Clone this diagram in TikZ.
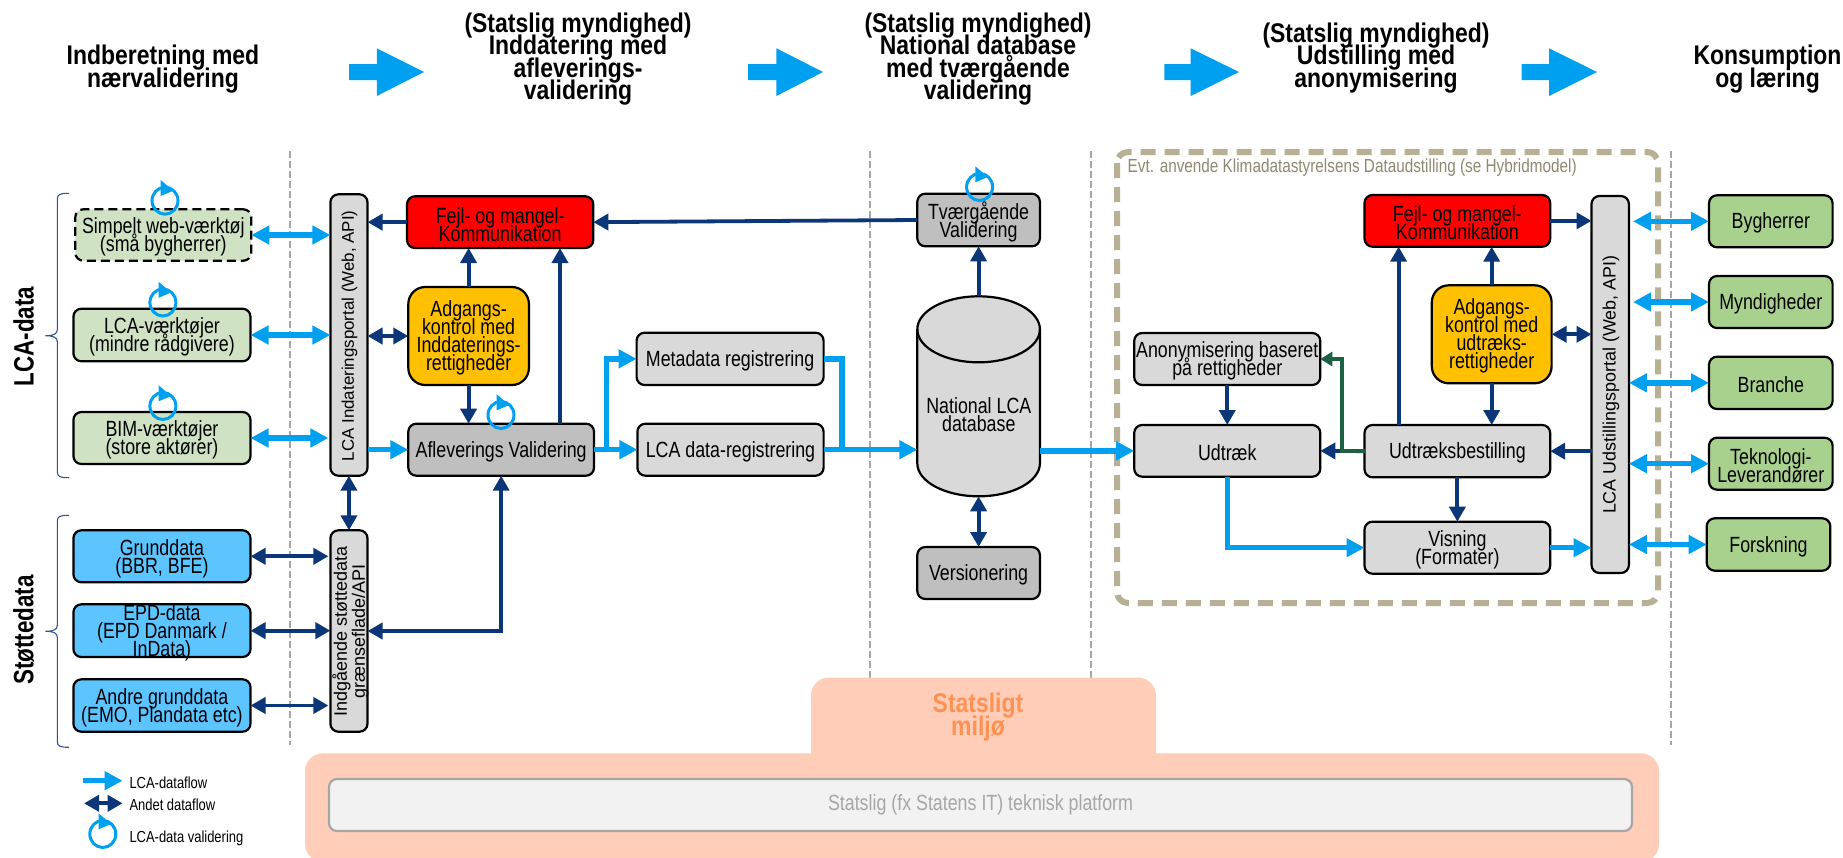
\documentclass[tikz,border=0pt]{standalone}
\usepackage{fontspec}
\setmainfont{Liberation Sans}
\newfontfamily\fcond[FakeStretch=0.81]{Liberation Sans}
\newfontfamily\fbcond[FakeStretch=0.85]{Liberation Sans Bold}
\newfontfamily\fbside[FakeStretch=0.80]{Liberation Sans Bold}
\usetikzlibrary{arrows.meta,calc}
\definecolor{lb}{HTML}{00A0F0}
\definecolor{db}{HTML}{0B3677}
\definecolor{grn}{HTML}{1F6045}
\definecolor{lgreen}{HTML}{CFE2C3}
\definecolor{mgreen}{HTML}{A9D18E}
\definecolor{skyb}{HTML}{5CC4FF}
\definecolor{amber}{HTML}{FFC000}
\definecolor{lgray}{HTML}{D9D9D9}
\definecolor{mgray}{HTML}{BFBFBF}
\definecolor{frame}{HTML}{B8B094}
\definecolor{frametxt}{HTML}{8F8870}
\definecolor{orng}{HTML}{FFCDB8}
\definecolor{orngtxt}{HTML}{FF9152}
\AtBeginDocument{\normallineskiplimit=-100pt\lineskiplimit=-100pt}
\tikzset{
 x=1pt,y=-1pt,
 basebox/.style={draw=black,line width=2.2pt,rounded corners=8pt,inner sep=0pt,outer sep=0pt},
 boxg/.style={basebox,fill=lgray},
 boxm/.style={basebox,fill=mgray},
 boxl/.style={basebox,fill=lgreen},
 boxr/.style={basebox,fill=mgreen},
 boxs/.style={basebox,fill=skyb},
 boxred/.style={basebox,fill=red},
 boxam/.style={basebox,fill=amber,rounded corners=17pt},
 ghost/.style={inner sep=0pt,outer sep=0pt},
 boxtxt/.style={inner sep=0pt,outer sep=0pt,align=center,text=black,font=\fcond\fontsize{22}{18}\selectfont},
 rottxt/.style={inner sep=0pt,align=center,rotate=90,font=\fontsize{17.4}{18}\selectfont},
 title/.style={inner sep=0pt,align=center,font=\fbcond\fontsize{27}{22.5}\selectfont},
 sidetxt/.style={inner sep=0pt,rotate=90,font=\fbside\fontsize{28}{28}\selectfont},
 legtxt/.style={inner sep=0pt,anchor=west,font=\fcond\fontsize{16}{15}\selectfont},
 lca/.style={draw=lb,line width=5.5pt,-{Triangle[length=18pt,width=18pt]}},
 lcad/.style={draw=lb,line width=5.5pt,{Triangle[length=18pt,width=18pt]}-{Triangle[length=18pt,width=18pt]}},
 lcan/.style={draw=lb,line width=5.5pt},
 oth/.style={draw=db,line width=3.8pt,-{Triangle[length=15pt,width=16pt]}},
 othd/.style={draw=db,line width=3.8pt,{Triangle[length=15pt,width=16pt]}-{Triangle[length=15pt,width=16pt]}},
 gre/.style={draw=grn,line width=3.8pt,-{Triangle[length=12pt,width=14pt]}},
 vline/.style={draw=black!35,line width=1.8pt,dash pattern=on 7pt off 3pt},
 bracel/.style={draw=db!85!white,line width=1.1pt},
}
\newcommand{\nbox}[7]{%
 \pgfmathsetmacro\bcx{(#2+#4)/2}\pgfmathsetmacro\bcy{(#3+#5)/2}%
 \pgfmathsetmacro\bbw{#4-#2-2}\pgfmathsetmacro\bbh{#5-#3-2}%
 \pgfmathsetmacro\bty{\bcy+2}%
 \node[#6,minimum width=\bbw pt,minimum height=\bbh pt] (#1) at (\bcx,\bcy) {};
 \node[boxtxt] (#1txt) at (\bcx,\bty) {#7};}
\newcommand{\harrow}[3]{%
 \fill[lb] (#1,64) -- (#2,64) -- (#2,48.3) -- (#3,72) -- (#2,96) -- (#2,80) -- (#1,80) -- cycle;}
\newcommand{\valid}[2]{%
 \draw[lb,line width=3pt] (#1,#2) ellipse [x radius=13pt,y radius=13.5pt];
 \fill[lb] (#1-4.3,#2-20.7) -- (#1+8.3,#2-10) -- (#1-4.3,#2-4.7) -- cycle;}
\newcommand{\brc}[3]{%
 \draw[bracel] (69,#1) .. controls (60,#1) and (57.3,#1+1) .. (57.3,#1+6) -- (57.3,#2-6) .. controls (57.3,#2-2) and (54,#2) .. (45.5,#2) .. controls (54,#2) and (57.3,#2+2) .. (57.3,#2+6) -- (57.3,#3-6) .. controls (57.3,#3-1) and (60,#3) .. (69,#3);}
\begin{document}
\begin{tikzpicture}
\useasboundingbox (0,0) rectangle (1843,857);

% Vertical separators
\coordinate (v1t) at (290,151); \coordinate (v1b) at (290,745);
\coordinate (v2t) at (870,151); \coordinate (v2b) at (870,745);
\coordinate (v3t) at (1091,151); \coordinate (v3b) at (1091,745);
\coordinate (v4t) at (1671,151); \coordinate (v4b) at (1671,745);
\draw[vline] (v1t) -- (v1b);
\draw[vline] (v2t) -- (v2b);
\draw[vline] (v3t) -- (v3b);
\draw[vline] (v4t) -- (v4b);

% State environment
\fill[orng,rounded corners=18pt] (811,800) -- (811,677.5) -- (1156,677.5) -- (1156,800) -- cycle;
\fill[orng,rounded corners=18pt] (305,753.3) rectangle (1659,862);
\node[draw=black!35,line width=2.2pt,fill=black!5,rounded corners=8pt,minimum width=1303pt,minimum height=52pt,inner sep=0pt,font=\fcond\fontsize{22}{18}\selectfont,text=black!35] (plat) at (980.5,805) {Statslig (fx Statens IT) teknisk platform};
\node[title,text=orngtxt] (miljo) at (978,717) {Statsligt\\miljø};

% Dashed frame
\draw[frame,line width=6pt,rounded corners=11pt,dash pattern=on 15pt off 9pt] (1117,152) rectangle (1658,603);
\node[inner sep=0pt,anchor=west,text=frametxt,font=\fcond\fontsize{18.9}{17}\selectfont] (evt) at (1127.5,168) {Evt. anvende Klimadatastyrelsens Dataudstilling (se Hybridmodel)};

% Header titles
\node[title] (h1) at (163,69) {Indberetning med\\nærvalidering};
\node[title] (h2) at (578,59) {(Statslig myndighed)\\Inddatering med\\afleverings-\\validering};
\node[title] (h3) at (978,59) {(Statslig myndighed)\\National database\\med tværgående\\validering};
\node[title] (h4) at (1376,58) {(Statslig myndighed)\\Udstilling med\\anonymisering};
\node[title] (h5) at (1767.5,69) {Konsumption\\og læring};
\harrow{349}{376.8}{424}
\harrow{748}{776.4}{823}
\harrow{1164.3}{1190.7}{1239}
\harrow{1521.5}{1549}{1597}

% Side labels and braces
\node[sidetxt] (slca) at (23.7,336.7) {LCA-data};
\node[sidetxt] (sstot) at (23.7,630) {Støttedata};
\brc{193.3}{335.7}{477.7}
\brc{515.3}{631.3}{747.3}

% Left sources
\nbox{simp}{74.3}{208.3}{252.3}{261.7}{boxl,dashed,dash pattern=on 9pt off 5pt}{Simpelt web-værktøj\\(små bygherrer)}
\nbox{lcav}{72.4}{307.7}{251.5}{362.3}{boxl}{LCA-værktøjer\\(mindre rådgivere)}
\nbox{bim}{72.4}{411}{251.5}{465}{boxl}{BIM-værktøjer\\(store aktører)}
\nbox{grund}{72.4}{529.3}{251.5}{583.3}{boxs}{Grunddata\\(BBR, BFE)}
\nbox{epd}{72.4}{603.3}{251.5}{658}{boxs}{EPD-data\\(EPD Danmark /\\InData)}
\nbox{andre}{72.4}{678.3}{251.5}{732.7}{boxs}{Andre grunddata\\(EMO, Plandata etc)}

% Input column
\nbox{portal}{329.4}{193.3}{368.5}{476.7}{boxg}{}
\node[rottxt,font=\fontsize{16.9}{18}\selectfont] (portallbl) at (349.5,335.8) {LCA Indateringsportal (Web, API)};
\nbox{ind}{329.4}{529.3}{368.5}{732.7}{boxg}{}
\node[rottxt,font=\fontsize{18}{18}\selectfont] (indlbl) at (350.5,631.5) {Indgående støttedata\\grænseflade/API};
\nbox{fejl}{406}{195.3}{594.3}{249}{boxred}{Fejl- og mangel-\\Kommunikation}
\nbox{adg}{407.3}{286}{529.9}{386}{boxam}{Adgangs-\\kontrol med\\Inddaterings-\\rettigheder}
\nbox{afl}{407.3}{422.7}{595}{476.7}{boxm}{Afleverings Validering}
\nbox{meta}{635.6}{331.7}{824.6}{386}{boxg}{Metadata registrering}
\nbox{lcareg}{636.4}{422.7}{824.6}{476.7}{boxg}{LCA data-registrering}

% National DB column
\nbox{tv}{916.3}{192.7}{1040.9}{247.3}{boxm}{Tværgående\\Validering}
\nbox{vers}{916.3}{546}{1040.9}{600}{boxm}{Versionering}
\draw[black,line width=2.2pt,fill=lgray] (917.3,329.3) -- (917.3,463.3) arc[start angle=180,end angle=360,x radius=61.3pt,y radius=33pt] -- (1039.9,329.3) arc[start angle=0,end angle=180,x radius=61.3pt,y radius=33pt] -- cycle;
\draw[black,line width=2.2pt] (917.3,329.3) arc[start angle=180,end angle=360,x radius=61.3pt,y radius=33pt];
\nbox{dbase}{916.3}{295}{1040.9}{497.3}{ghost}{}
\node[boxtxt] (dbaselbl) at (978.8,414.5) {National LCA\\database};

% Output column
\nbox{anon}{1133.2}{332}{1321.3}{386}{boxg}{Anonymisering baseret\\på rettigheder}
\nbox{utr}{1133.2}{424}{1321.3}{477.7}{boxg}{Udtræk}
\nbox{fejlb}{1363.5}{194}{1551.2}{247.7}{boxred}{Fejl- og mangel-\\Kommunikation}
\nbox{adgb}{1430.8}{284.3}{1552.6}{384.3}{boxam}{Adgangs-\\kontrol med\\udtræks-\\rettigheder}
\nbox{best}{1363.5}{424}{1551.2}{478.3}{boxg}{Udtræksbestilling}
\nbox{vis}{1363.5}{520.7}{1551.2}{574.7}{boxg}{Visning\\(Formater)}
\nbox{portalb}{1590.5}{195}{1629.9}{574}{boxg}{}
\node[rottxt,font=\fontsize{17.9}{18}\selectfont] (portalblbl) at (1611,384.8) {LCA Udstillingsportal (Web, API)};

% Consumers
\nbox{byg}{1708}{194.3}{1833.6}{248.3}{boxr}{Bygherrer}
\nbox{myn}{1708}{275}{1833.6}{329}{boxr}{Myndigheder}
\nbox{bra}{1708}{355.7}{1833.6}{410}{boxr}{Branche}
\nbox{tek}{1708}{436.7}{1833.6}{490.7}{boxr}{Teknologi-\\Leverandører}
\nbox{fors}{1705.7}{517.3}{1831.3}{571.7}{boxr}{Forskning}

% Helper x positions
\coordinate (xaf) at (560,0);
\coordinate (jl) at (606.5,449.7);
\coordinate (jr) at (842,449.7);
\coordinate (gx) at (1341.7,0);
\coordinate (xbest) at (1398.6,0);
\coordinate (pr) at (1633,0);

% Left connectors
\draw[lcad] (simp.east) -- (simp.east -| portal.west);
\draw[lcad] (lcav.east) -- (lcav.east -| portal.west);
\draw[lcad] (bim.east) -- ([xshift=-2pt]bim.east -| portal.west);
\draw[othd] (grund.east) -- ([xshift=-2pt]grund.east -| ind.west);
\draw[othd] (epd.east) -- (epd.east -| ind.west);
\draw[othd] (andre.east) -- ([xshift=-2pt]andre.east -| ind.west);
\draw[othd] (portal.south) -- (ind.north);
\draw[othd] (ind.east) -| (afl.south);
\draw[lca] (afl.west -| portal.east) -- (afl.west);
\draw[oth] (fejl.west) -- (fejl.west -| portal.east);
\draw[othd] (adg.west -| portal.east) -- (adg.west);
\draw[oth] (adg.north) -- (adg.north |- fejl.south);
\draw[oth] (adg.south) -- (adg.south |- afl.north);
\draw[oth] (xaf |- afl.north) -- (xaf |- fejl.south);
\draw[oth] (tv.west) -- (fejl.east);
\draw[lcan] (afl.east) -- (jl);
\draw[lca] (jl) -- (lcareg.west);
\draw[lca] (jl) |- (meta.west);
\draw[lcan] (meta.east) -| (jr);
\draw[lca] (lcareg.east) -- (lcareg.east -| dbase.west);
\draw[lca] (utr.west -| dbase.east) -- (utr.west);
\draw[oth] (dbase.north) -- (tv.south);
\draw[othd] (dbase.south) -- (vers.north);

% Right connectors
\draw[oth] (anon.south) -- (utr.north);
\draw[oth] (best.west) -- (utr.east);
\draw[gre] (best.west) -- (gx |- best.west) |- (anon.east);
\draw[oth] (xbest |- best.north) -- (xbest |- fejlb.south);
\draw[oth] (adgb.north) -- (adgb.north |- fejlb.south);
\draw[oth] (adgb.south) -- (adgb.south |- best.north);
\draw[oth] (best.south) -- (best.south |- vis.north);
\draw[othd] (adgb.east) -- (adgb.east -| portalb.west);
\draw[oth] (fejlb.east) -- (fejlb.east -| portalb.west);
\draw[oth] (best.east -| portalb.west) -- (best.east);
\draw[lca] (utr.south) |- (vis.west);
\draw[lca] (vis.east) -- (vis.east -| portalb.west);
\draw[lcad] (byg.west -| pr) -- (byg.west);
\draw[lcad] (myn.west -| pr) -- (myn.west);
\draw[lcad] (bra.west -| portalb.east) -- (bra.west);
\draw[lcad] (tek.west -| portalb.east) -- (tek.west);
\draw[lcad] (fors.west -| portalb.east) -- (fors.west);

% Validation loops
\valid{165}{200.7}
\valid{162.9}{302.5}
\valid{162.9}{406}
\valid{501}{415}
\valid{979.6}{187}

% Legend
\coordinate (l1a) at (83,780.7); \coordinate (l1b) at (122.6,780.7);
\coordinate (l2a) at (84,803.3); \coordinate (l2b) at (122.6,803.3);
\draw[lca] (l1a) -- (l1b);
\draw[othd] (l2a) -- (l2b);
\valid{102.8}{834}
\node[legtxt] (lt1) at (129.3,782.7) {LCA-dataflow};
\node[legtxt] (lt2) at (129.3,804.3) {Andet dataflow};
\node[legtxt] (lt3) at (129.3,838.7) {LCA-data validering};
\end{tikzpicture}
\end{document}
